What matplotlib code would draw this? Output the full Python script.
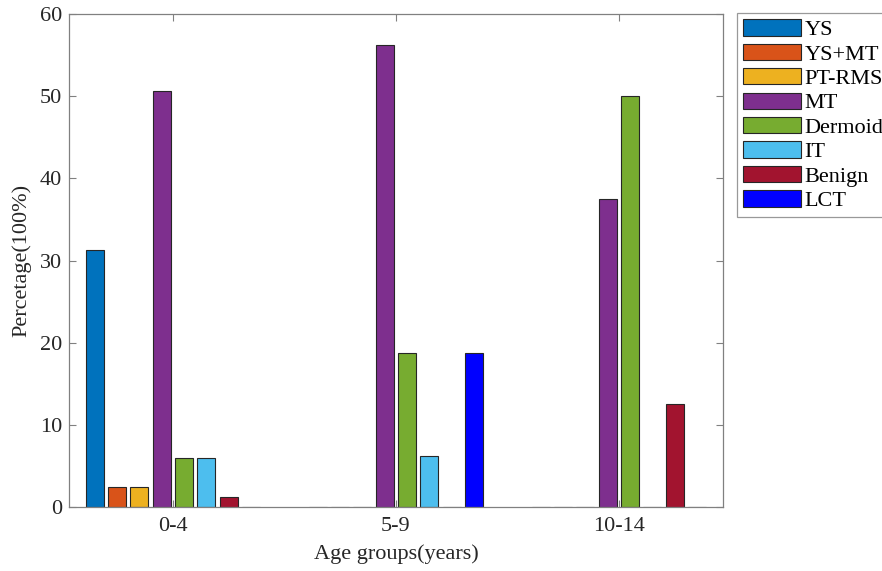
import matplotlib
matplotlib.use("Agg")
import matplotlib.pyplot as plt
import numpy as np

plt.rcParams['font.family'] = ['Liberation Serif', 'DejaVu Serif']

groups = ["0-4", "5-9", "10-14"]
series = ["YS", "YS+MT", "PT-RMS", "MT", "Dermoid", "IT", "Benign", "LCT"]
YS = [31.3, 0, 0]
YS_MT = [2.4, 0, 0]
PT_RMS = [2.4, 0, 0]
MT = [50.6, 56.25, 37.5]
Dermoid = [6.0, 18.75, 50.0]
IT = [6.0, 6.25, 0]
Benign = [1.2, 0, 12.5]
LCT = [0, 18.75, 0]
values = [YS, YS_MT, PT_RMS, MT, Dermoid, IT, Benign, LCT]
colors = ["#0072BD", "#D95319", "#EDB120", "#7E2F8E", "#77AC30", "#4DBEEE", "#A2142F", "#0000FF"]

fig = plt.figure(figsize=(8.82, 5.71), dpi=100)
ax = fig.add_axes([69/882, 1-507/571, (723-69)/882, (507-14)/571])

x = np.arange(1, len(groups)+1)
n = len(series)
w = 0.081
handles = []
for i, (name, vals, c) in enumerate(zip(series, values, colors)):
    off = (i - (n-1)/2) * 0.1
    h = ax.bar(x + off, vals, width=w, color=c, edgecolor="#262626", linewidth=0.8, label=name)
    handles.append(h)

ax.set_xlim(0.534, 3.467)
ax.set_ylim(0, 60)
ax.set_xticks(x)
ax.set_xticklabels(groups)
ax.set_yticks(np.arange(0, 61, 10))
ax.tick_params(direction='in', labelsize=16, labelcolor='#262626', length=5, width=0.8,
               top=True, right=True, color='#808080')
ax.tick_params(axis='y', pad=5)
ax.tick_params(axis='x', pad=7)
for s in ax.spines.values():
    s.set_color('#808080')
    s.set_linewidth(0.9)
ax.set_xlabel("Age groups(years)", fontsize=16, color='#262626', labelpad=6)
ax.set_ylabel("Percetage(100%)", fontsize=16, color='#262626', labelpad=6)

leg = fig.legend(handles=handles, labels=series, loc='upper left',
                 bbox_to_anchor=(737/882, 1-13/571), fontsize=16,
                 frameon=True, fancybox=False, handlelength=2.6, handleheight=0.75,
                 handletextpad=0.15, labelspacing=0.16, borderpad=0.28, borderaxespad=0)
leg.get_frame().set_edgecolor('#808080')
leg.get_frame().set_linewidth(0.9)

fig.savefig("out.png", dpi=100)
